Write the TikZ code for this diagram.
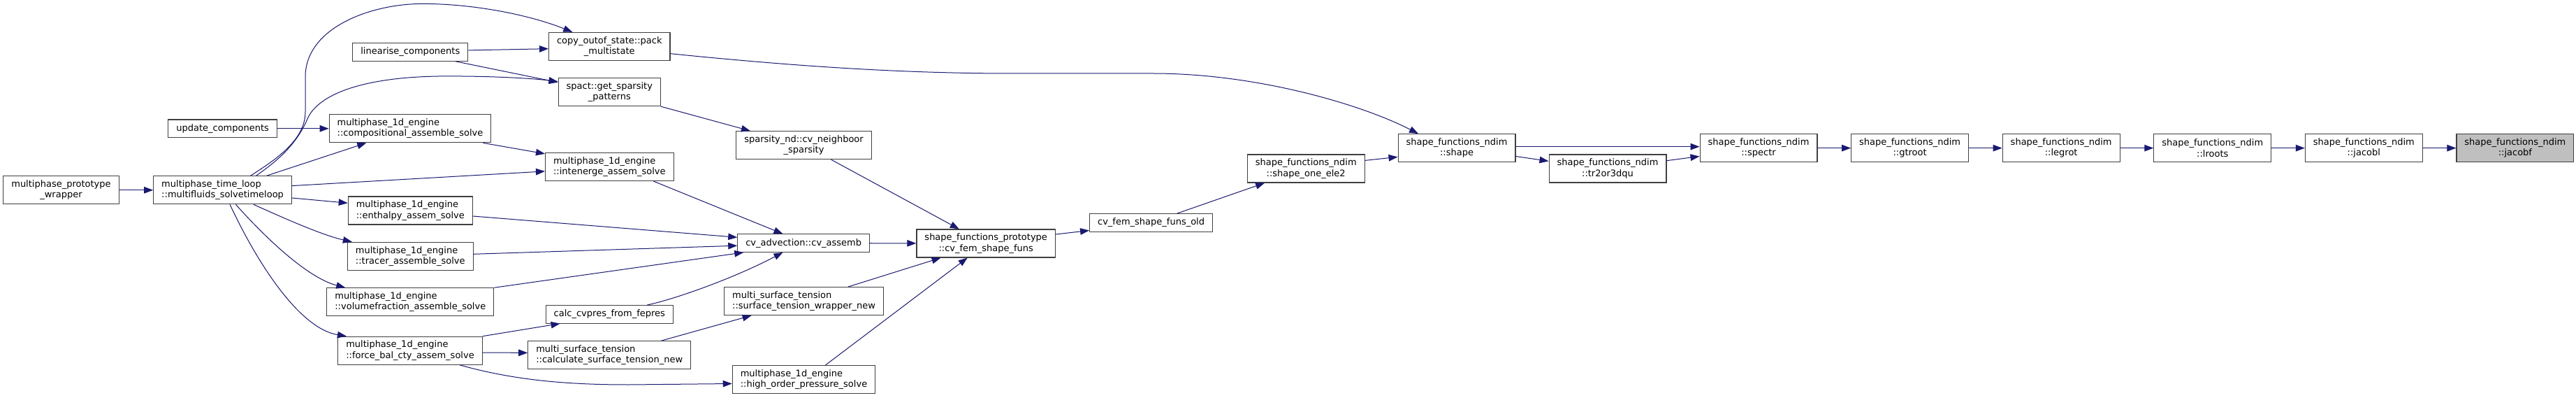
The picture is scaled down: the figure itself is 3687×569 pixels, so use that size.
\documentclass[tikz,border=0pt]{standalone}
\usepackage{fontspec}
\usepackage{tikz}
\usetikzlibrary{arrows.meta, positioning}
\newfontfamily\dxfont{DejaVu Sans}
\definecolor{cEdge}{RGB}{25,25,112}
\definecolor{cFrame}{RGB}{64,64,64}
\definecolor{cFocus}{RGB}{191,191,191}
\tikzset{
	fn/.style   ={rectangle, draw=cFrame, fill=white, line width=1.1pt, inner xsep=11.5pt, inner ysep=0pt, minimum height=25.5pt, text=black, font=\dxfont\fontsize{13pt}{15.3pt}\selectfont},
	fnc/.style  ={fn, minimum height=40pt, align=center},
	fnl/.style  ={fn, minimum height=40pt, align=left},
	focus/.style={fnc, fill=cFocus},
	call/.style ={draw=cEdge, line width=1pt, -{Triangle[length=13pt, width=9.5pt]}},
}
\begin{document}
\begin{tikzpicture}[x=1pt, y=-1pt, node distance=47.6pt]
	\fill[white] (0,0) rectangle (3687,569);
	\useasboundingbox (0,0) rectangle (3687,569);
	% callers on the left
	\node[fnc] (wrapper) at (87.5,271.8) {multiphase\_prototype\\\_wrapper};
	\node[fnl] (timeloop) at (318.6,271.8) {multiphase\_time\_loop\\::multifluids\_solvetimeloop};
	\node[fn] (update) at (318.6,183.8) {update\_components};
	\node[fn] (linearise) at (587.3,74.4) {linearise\_components};
	\node[fnl] (compo) at (587,183.8) {multiphase\_1d\_engine\\::compositional\_assemble\_solve};
	\node[fnl] (enthalpy) at (587.3,301) {multiphase\_1d\_engine\\::enthalpy\_assem\_solve};
	\node[fnl] (tracer) at (587.3,366.3) {multiphase\_1d\_engine\\::tracer\_assemble\_solve};
	\node[fnl] (volfrac) at (587.3,431.8) {multiphase\_1d\_engine\\::volumefraction\_assemble\_solve};
	\node[fnl] (forcebal) at (587,501.2) {multiphase\_1d\_engine\\::force\_bal\_cty\_assem\_solve};
	\node[fnc] (packstate) at (872.3,66.4) {copy\_outof\_state::pack\\\_multistate};
	\node[fnc] (patterns) at (872.3,131.7) {spact::get\_sparsity\\\_patterns};
	\node[fnl] (intenerge) at (872.3,238.6) {multiphase\_1d\_engine\\::intenerge\_assem\_solve};
	\node[fn] (cvpres) at (872.3,449.3) {calc\_cvpres\_from\_fepres};
	\node[fnl] (calcst) at (872.2,507.7) {multi\_surface\_tension\\::calculate\_surface\_tension\_new};
	\node[fnc] (neighboor) at (1150.5,207.7) {sparsity\_nd::cv\_neighboor\\\_sparsity};
	\node[fn] (cvassemb) at (1150.2,347.6) {cv\_advection::cv\_assemb};
	\node[fnl] (stwrapper) at (1150.6,430.5) {multi\_surface\_tension\\::surface\_tension\_wrapper\_new};
	\node[fnl] (highorder) at (1150.5,542.5) {multiphase\_1d\_engine\\::high\_order\_pressure\_solve};
	% shape function chain
	\node[fnc] (cvfem) at (1411.2,348) {shape\_functions\_prototype\\::cv\_fem\_shape\_funs};
	\node[fn] (cvfemold) at (1647.6,318.4) {cv\_fem\_shape\_funs\_old};
	\node[fnc] (oneele) at (1869.2,241) {shape\_functions\_ndim\\::shape\_one\_ele2};
	\node[fnc] (shape) at (2085,211.7) {shape\_functions\_ndim\\::shape};
	\node[fnc] (tr2) at (2301,241) {shape\_functions\_ndim\\::tr2or3dqu};
	\node[fnc] (spectr) at (2517,211.7) {shape\_functions\_ndim\\::spectr};
	\node[fnc, right=of spectr] (gtroot) {shape\_functions\_ndim\\::gtroot};
	\node[fnc, right=of gtroot] (legrot) {shape\_functions\_ndim\\::legrot};
	\node[fnc, right=of legrot] (lroots) {shape\_functions\_ndim\\::lroots};
	\node[fnc, right=of lroots] (jacobl) {shape\_functions\_ndim\\::jacobl};
	\node[focus, right=of jacobl] (jacobf) {shape\_functions\_ndim\\::jacobf};
	% calls
	\draw[call] (wrapper) -- (timeloop);
	\draw[call] ([xshift=40pt]timeloop.north) .. controls (395,228) and (437,200) .. (437,160) -- (437,110) .. controls (437,40) and (530,5.4) .. (605,5.4) .. controls (680,5.4) and (760,22) .. ([xshift=-53pt]packstate.north);
	\draw[call] ([xshift=48pt]timeloop.north) .. controls (400,228) and (425,205) .. (440,170) .. controls (455,135) and (520,108.9) .. (640,108.9) .. controls (720,108.9) and (770,113) .. ([yshift=15pt]patterns.west);
	\draw[call] ([yshift=2.5pt]linearise.east) -- ([yshift=-3.3pt]packstate.west);
	\draw[call] ([xshift=64.4pt]linearise.south) -- ([yshift=14pt]patterns.west);
	\draw[call] (update) -- (compo);
	\draw[call] ([xshift=63pt]timeloop.north) -- ([xshift=-62.7pt]compo.south);
	\draw[call] ([yshift=6.2pt]timeloop.east) -- ([yshift=-6.3pt]intenerge.west);
	\draw[call] ([yshift=-11.2pt]timeloop.east) -- ([yshift=10.7pt]enthalpy.west);
	\draw[call] ([xshift=44.3pt]timeloop.south) .. controls (400,309) and (460,336) .. ([xshift=7pt]tracer.north west);
	\draw[call] ([xshift=18.9pt]timeloop.south) .. controls (380,340) and (440,397) .. ([xshift=27pt]volfrac.north west);
	\draw[call] ([xshift=10.5pt]timeloop.south) .. controls (370,380) and (430,470) .. ([xshift=12.7pt]forcebal.north west);
	\draw[call] ([xshift=-12pt]compo.south east) -- ([yshift=-1.8pt]intenerge.north west);
	\draw[call] (patterns.south east) -- ([xshift=20.7pt]neighboor.north west);
	\draw[call] ([yshift=-10.3pt]packstate.east) .. controls (1150,96) and (1300,105) .. (1450,105) -- (1650,105) .. controls (1800,105) and (1950,150) .. ([xshift=29.5pt]shape.north west);
	\draw[call] ([xshift=63.2pt]intenerge.south) -- ([xshift=-29.7pt]cvassemb.north);
	\draw[call] ([yshift=-8pt]enthalpy.east) -- ([yshift=8.3pt]cvassemb.west);
	\draw[call] ([yshift=3pt]tracer.east) -- ([yshift=-3.6pt]cvassemb.west);
	\draw[call] (volfrac.north east) -- ([xshift=9pt]cvassemb.south west);
	\draw[call] ([xshift=54pt]cvpres.north) .. controls (965,428) and (1050,398) .. ([xshift=-29.7pt]cvassemb.south);
	\draw[call] (forcebal.north east) -- ([xshift=21pt]cvpres.south west);
	\draw[call] ([yshift=-2.8pt]forcebal.east) -- ([yshift=3.3pt]calcst.west);
	\draw[call] ([xshift=70.9pt]forcebal.south) .. controls (740,545) and (820,550) .. (900,550) -- ([yshift=-6pt]highorder.west);
	\draw[call] ([xshift=74.2pt]calcst.north) -- ([xshift=39.5pt]stwrapper.south west);
	\draw[call] ([xshift=39.2pt]neighboor.south) -- ([xshift=-38.4pt]cvfem.north);
	\draw[call] (cvassemb) -- (cvfem);
	\draw[call] ([xshift=63.6pt]stwrapper.north) -- ([xshift=-64.6pt]cvfem.south);
	\draw[call] ([xshift=31pt]highorder.north) -- ([xshift=-26.5pt]cvfem.south);
	\draw[call] ([yshift=13pt]cvfem.east) -- ([yshift=-11.1pt]cvfemold.west);
	\draw[call] ([xshift=37.2pt]cvfemold.north) -- ([xshift=25.4pt]oneele.south west);
	\draw[call] ([yshift=11.6pt]oneele.east) -- ([yshift=-12.7pt]shape.west);
	\draw[call] ([yshift=2pt]shape.east) -- ([yshift=2pt]spectr.west);
	\draw[call] ([yshift=-11.8pt]shape.east) -- ([yshift=10.6pt]tr2.west);
	\draw[call] ([yshift=11.3pt]tr2.east) -- ([yshift=-11.8pt]spectr.west);
	\foreach \a/\b in {spectr/gtroot, gtroot/legrot, legrot/lroots, lroots/jacobl, jacobl/jacobf}
		\draw[call] (\a) -- (\b);
\end{tikzpicture}
\end{document}
